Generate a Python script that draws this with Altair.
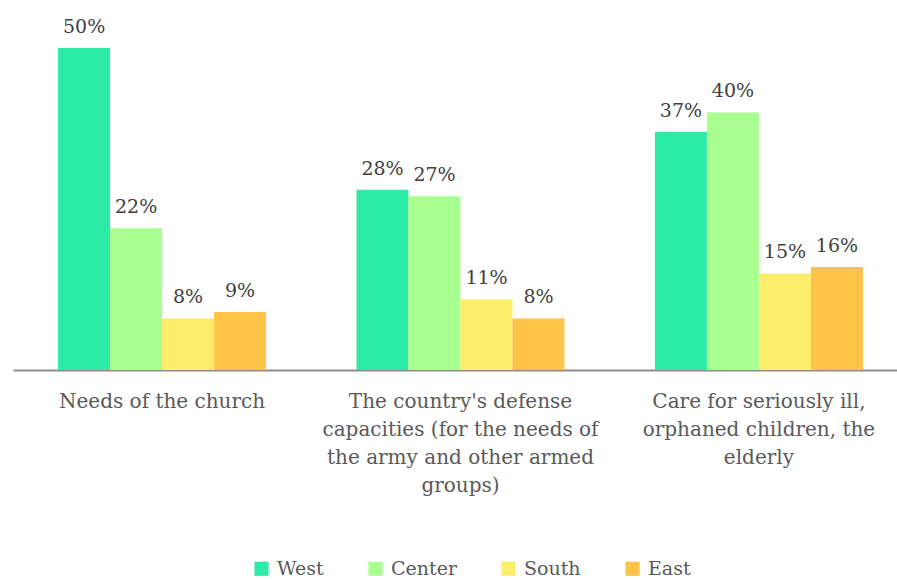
import altair as alt
import pandas as pd

categories = [
    "Needs of the church",
    "The country's defense|capacities (for the needs of|the army and other armed|groups)",
    "Care for seriously ill,|orphaned children, the|elderly",
]
regions = ["West", "Center", "South", "East"]
colors = ["#2CEBA6", "#A9FF8F", "#FCEE6A", "#FFC447"]
values = {
    "West": [50, 28, 37],
    "Center": [22, 27, 40],
    "South": [8, 11, 15],
    "East": [9, 8, 16],
}

rows = []
for r in regions:
    for c, v in zip(categories, values[r]):
        rows.append({"category": c, "region": r, "value": v, "label": f"{v}%"})
df = pd.DataFrame(rows)

FONT = "DejaVu Serif"

x = alt.X(
    "category:N",
    sort=categories,
    scale=alt.Scale(range=[0, 895], paddingInner=0.303, paddingOuter=0.151),
    axis=alt.Axis(
        title=None,
        labelAngle=0,
        labelExpr="split(datum.label, '|')",
        labelFont=FONT,
        labelFontSize=20,
        labelColor="#595959",
        labelLineHeight=28,
        labelPadding=21,
        labelLimit=400,
        ticks=False,
        domainColor="#8C8C8C",
        domainWidth=2,
    ),
)
xo = alt.XOffset("region:N", sort=regions, scale=alt.Scale(paddingInner=0, paddingOuter=0))
y = alt.Y("value:Q", scale=alt.Scale(domain=[0, 57], nice=False), axis=None)

base = alt.Chart(df)

bars = base.mark_bar().encode(
    x=x,
    xOffset=xo,
    y=y,
    color=alt.Color(
        "region:N",
        sort=regions,
        scale=alt.Scale(domain=regions, range=colors),
        legend=alt.Legend(
            title=None,
            orient="none",
            legendX=239,
            legendY=556,
            direction="horizontal",
            symbolType="square",
            symbolSize=200,
            symbolStrokeWidth=0,
            labelFont=FONT,
            labelFontSize=19,
            labelColor="#595959",
            columnPadding=42,
            labelOffset=6,
        ),
    ),
)

text = base.mark_text(
    baseline="bottom", dy=-11, font=FONT, fontSize=19, color="#404040"
).encode(x=x, xOffset=xo, y=y, text="label:N")

chart = (
    alt.layer(bars, text)
    .properties(
        width=884,
        height=367,
        autosize=alt.AutoSizeParams(type="none"),
        padding={"left": 13, "top": 3, "right": 0, "bottom": 210},
    )
    .configure_view(stroke=None)
)

chart.save("out.html", embed_options={"renderer": "svg", "actions": False})
